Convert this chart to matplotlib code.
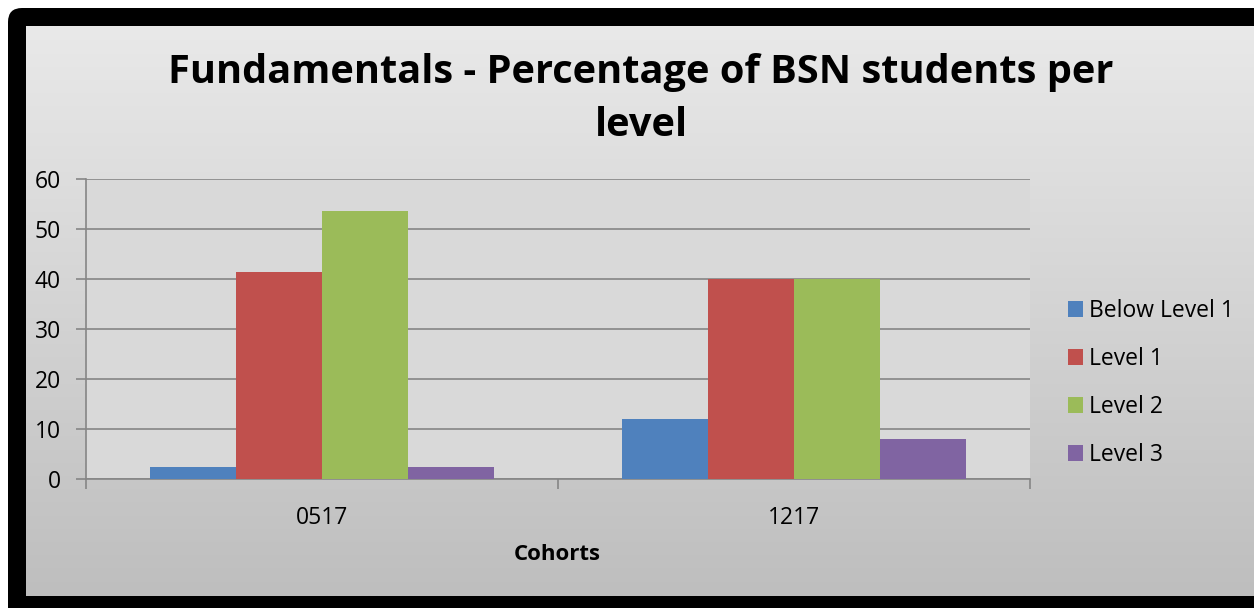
import numpy as np
import matplotlib
matplotlib.use('Agg')
import matplotlib.pyplot as plt
from matplotlib.patches import FancyBboxPatch, Patch

# data
cohorts = ['0517', '1217']
series = ['Below Level 1', 'Level 1', 'Level 2', 'Level 3']
below_level1 = [2.4, 12.0]
level1 = [41.5, 40.0]
level2 = [53.7, 40.0]
level3 = [2.4, 8.0]
values = [below_level1, level1, level2, level3]
colors = ['#4F81BD', '#C0504D', '#9BBB59', '#8064A2']
y_ticks = [0, 10, 20, 30, 40, 50, 60]

plt.rcParams['font.family'] = ['Open Sans', 'DejaVu Sans']

W, H = 1254, 608
fig = plt.figure(figsize=(W / 100, H / 100), dpi=100, facecolor='white')

# background: black rounded frame and grey gradient chart area
bg = fig.add_axes([0, 0, 1, 1])
bg.set_xlim(0, W)
bg.set_ylim(H, 0)
bg.axis('off')
bg.add_patch(FancyBboxPatch((8, 8), W + 40, H + 40,
                            boxstyle='round,pad=0,rounding_size=14',
                            facecolor='black', edgecolor='none'))
grad = np.linspace(233, 190, 256)[:, None] / 255.0
grad = np.repeat(grad, 2, axis=1)
bg.imshow(np.dstack([grad, grad, grad]), extent=(26, W, 596, 26),
          aspect='auto', interpolation='bilinear', zorder=2)

# plot area
ax = fig.add_axes([86 / W, 129 / H, (1030 - 86) / W, 300 / H])
ax.set_facecolor('#D9D9D9')
x = np.arange(len(cohorts))
w = 0.182
for i, (name, vals) in enumerate(zip(series, values)):
    ax.bar(x + (i - 1.5) * w, vals, width=w, color=colors[i], label=name,
           zorder=3)

ax.set_xlim(-0.5, 1.5)
ax.set_ylim(0, 60)
ax.set_yticks(y_ticks)
ax.set_axisbelow(True)
ax.yaxis.grid(True, color='#868686', linewidth=1.2)
for s in ['top', 'right']:
    ax.spines[s].set_visible(False)
for s in ['left', 'bottom']:
    ax.spines[s].set_color('#868686')
    ax.spines[s].set_linewidth(1.2)

ax.set_xticks(x)
ax.set_xticklabels(cohorts)
ax.set_xticks([-0.5, 0.5, 1.5], minor=True)
ax.tick_params(axis='x', which='major', length=0, pad=19.5, labelsize=16.5)
ax.tick_params(axis='x', which='minor', length=7, width=1.2, color='#868686',
               direction='out')
ax.tick_params(axis='y', length=7, width=1.2, color='#868686', pad=11,
               labelsize=16.5)

fig.text(557 / W, 1 - 554 / H, 'Cohorts', ha='center', va='center',
         fontsize=16, fontweight='bold')
fig.text(641 / W, 1 - 99 / H, 'Fundamentals - Percentage of BSN students per\nlevel',
         ha='center', va='center', fontsize=28.6, fontweight='bold',
         linespacing=1.5)

handles = [Patch(facecolor=c, edgecolor='none') for c in colors]
fig.legend(handles, series, loc='center left',
           bbox_to_anchor=(1047 / W, 1 - 383 / H), frameon=False,
           fontsize=16.5, handlelength=0.65, handleheight=0.65,
           handletextpad=0.3, labelspacing=1.05)

fig.savefig('out.png', dpi=100, facecolor=fig.get_facecolor())
